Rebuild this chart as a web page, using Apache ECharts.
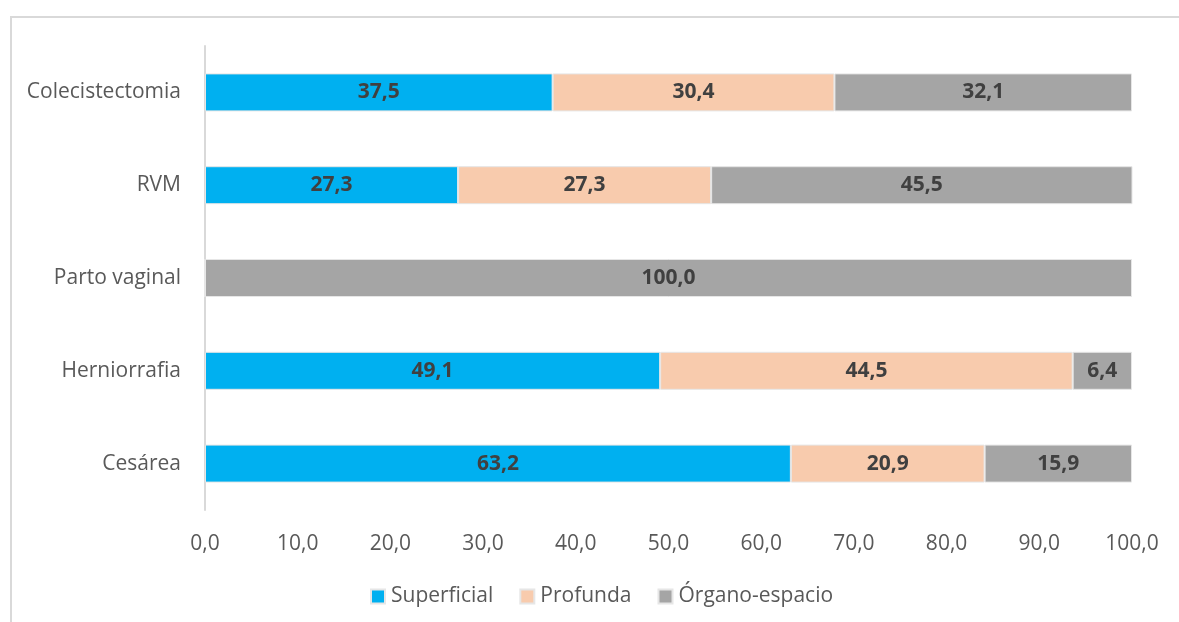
<!DOCTYPE html>
<html>
<head>
<meta charset="utf-8">
<script src="https://cdn.jsdelivr.net/npm/echarts@6/dist/echarts.min.js"></script>
<style>
  html, body { margin: 0; padding: 0; background: #fff; }
  #chart { width: 1179px; height: 622px; }
</style>
</head>
<body>
<div id="chart"></div>
<script>
var categories = ['Cesárea', 'Herniorrafia', 'Parto vaginal', 'RVM', 'Colecistectomia'];
var superficial = [63.2, 49.1, 0, 27.3, 37.5];
var profunda = [20.9, 44.5, 0, 27.3, 30.4];
var organoEspacio = [15.9, 6.4, 100.0, 45.5, 32.1];
var seriesNames = ['Superficial', 'Profunda', 'Órgano-espacio'];
var COLORS = ['#00b0f0', '#f8cbad', '#a5a5a5'];

var myChart = echarts.init(document.getElementById('chart'));

function fmt(v) {
  return v.toFixed(1).replace('.', ',');
}

function makeSeries(name, values, color) {
  return {
    name: name,
    type: 'bar',
    stack: 'total',
    barWidth: 38,
    data: values,
    itemStyle: { color: color, borderColor: '#e6e6e6', borderWidth: 1 },
    label: {
      show: true,
      color: '#404040',
      fontFamily: 'Open Sans',
      fontWeight: 'bold',
      fontSize: 21,
      formatter: function (p) { return p.value ? fmt(p.value) : ''; }
    }
  };
}

var option = {
  animation: false,
  textStyle: { fontFamily: 'Open Sans' },
  graphic: [{
    type: 'rect',
    shape: { x: 11, y: 17, width: 1200, height: 700 },
    style: { fill: 'none', stroke: '#d9d9d9', lineWidth: 2 },
    silent: true
  }],
  grid: { left: 205, right: 47, top: 46, bottom: 112 },
  legend: {
    bottom: 10,
    left: 365,
    itemWidth: 14,
    itemHeight: 14,
    itemGap: 26,
    icon: 'rect',
    textStyle: { color: '#595959', fontSize: 21, fontFamily: 'Open Sans', padding: [0, 0, 0, 1] },
    data: seriesNames
  },
  xAxis: {
    type: 'value',
    min: 0,
    max: 100,
    interval: 10,
    axisLine: { show: false },
    axisTick: { show: false },
    splitLine: { show: false },
    axisLabel: {
      color: '#595959',
      fontSize: 21,
      margin: 24,
      formatter: function (v) { return fmt(v); }
    }
  },
  yAxis: {
    type: 'category',
    data: categories,
    axisLine: { show: true, lineStyle: { color: '#d9d9d9', width: 2 } },
    axisTick: { show: false },
    axisLabel: { color: '#595959', fontSize: 21, margin: 24 }
  },
  series: [
    makeSeries(seriesNames[0], superficial, COLORS[0]),
    makeSeries(seriesNames[1], profunda, COLORS[1]),
    makeSeries(seriesNames[2], organoEspacio, COLORS[2])
  ]
};

myChart.setOption(option);
</script>
</body>
</html>
